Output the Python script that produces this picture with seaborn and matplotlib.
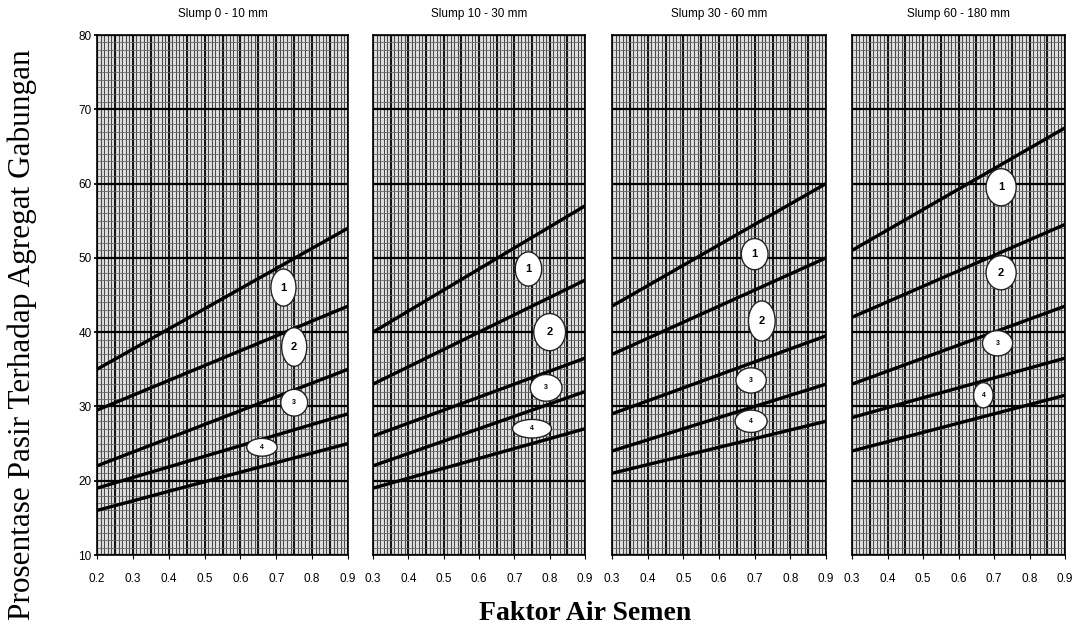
import numpy as np
import pandas as pd
import matplotlib
matplotlib.use("Agg")
import matplotlib.pyplot as plt
from matplotlib.patches import Ellipse
import seaborn as sns

# Slump classes, one panel each
panels = ["Slump 0 - 10 mm", "Slump 10 - 30 mm", "Slump 30 - 60 mm", "Slump 60 - 180 mm"]

# Water-cement ratio range of each panel
fas_start = [0.2, 0.3, 0.3, 0.3]
fas_end = [0.9, 0.9, 0.9, 0.9]

# Boundary lines (sand percent at start / end of the range), lines 1..5 top to bottom
p1_start = [35.0, 29.5, 22.0, 19.0, 16.0]
p1_end = [54.0, 43.5, 35.0, 29.0, 25.0]
p2_start = [40.0, 33.0, 26.0, 22.0, 19.0]
p2_end = [57.0, 47.0, 36.5, 32.0, 27.0]
p3_start = [43.5, 37.0, 29.0, 24.0, 21.0]
p3_end = [60.0, 50.0, 39.5, 33.0, 28.0]
p4_start = [51.0, 42.0, 33.0, 28.5, 24.0]
p4_end = [67.5, 54.5, 43.5, 36.5, 31.5]

# Zone labels (1..4): centre position of each marker per panel
zone_ids = ["1", "2", "3", "4"]
p1_zone_x = [0.72, 0.75, 0.75, 0.66]
p1_zone_y = [46.0, 38.0, 30.5, 24.5]
p2_zone_x = [0.74, 0.80, 0.79, 0.75]
p2_zone_y = [48.5, 40.0, 32.5, 27.0]
p3_zone_x = [0.70, 0.72, 0.69, 0.69]
p3_zone_y = [50.5, 41.5, 33.5, 28.0]
p4_zone_x = [0.72, 0.72, 0.71, 0.67]
p4_zone_y = [59.5, 48.0, 38.5, 31.5]

starts = [p1_start, p2_start, p3_start, p4_start]
ends = [p1_end, p2_end, p3_end, p4_end]
zone_xs = [p1_zone_x, p2_zone_x, p3_zone_x, p4_zone_x]
zone_ys = [p1_zone_y, p2_zone_y, p3_zone_y, p4_zone_y]

# marker size (width in FAS units, height in percent) for each zone label
zone_w = [[0.07, 0.07, 0.075, 0.085], [0.075, 0.09, 0.09, 0.11],
          [0.075, 0.075, 0.085, 0.09], [0.085, 0.085, 0.085, 0.055]]
zone_h = [[5.0, 5.2, 3.6, 2.4], [4.6, 5.0, 3.6, 2.5], [4.2, 5.4, 3.4, 3.0], [5.0, 4.6, 3.4, 3.4]]

rows = []
for pi, name in enumerate(panels):
    for li in range(5):
        rows.append({"panel": name, "line": li + 1, "fas": fas_start[pi], "pasir": starts[pi][li]})
        rows.append({"panel": name, "line": li + 1, "fas": fas_end[pi], "pasir": ends[pi][li]})
df = pd.DataFrame(rows)

sns.set_theme(style="white")
plt.rcParams["font.family"] = ["Liberation Sans", "DejaVu Sans"]
plt.rcParams["text.color"] = "black"
plt.rcParams["xtick.color"] = "black"
plt.rcParams["ytick.color"] = "black"

fig = plt.figure(figsize=(10.9, 6.36), dpi=100)
rects = [(97, 251), (373, 212), (612, 214), (852, 213)]
top_px, bot_px = 35, 555

for pi, name in enumerate(panels):
    l, w = rects[pi]
    ax = fig.add_axes([l / 1090, 1 - bot_px / 636, w / 1090, (bot_px - top_px) / 636])
    x0, x1 = fas_start[pi], fas_end[pi]
    ax.set_facecolor("#e2e2e2")

    # graph-paper texture
    fine = np.round(np.arange(x0, x1 + 1e-9, 0.01), 3)
    ax.vlines(fine, 10, 80, color="#4a4a4a", lw=0.8, zorder=0)
    coarse = np.round(np.arange(x0, x1 + 1e-9, 0.05), 3)
    ax.vlines(coarse, 10, 80, color="#151515", lw=1.5, zorder=0)
    ax.hlines(np.arange(10, 81, 1), x0, x1, color="#666666", lw=0.6, zorder=0)
    ax.hlines(np.arange(10, 81, 10), x0, x1, color="#000000", lw=1.6, zorder=1)

    sub = df[df["panel"] == name]
    sns.lineplot(data=sub, x="fas", y="pasir", units="line", estimator=None,
                 color="black", lw=2.4, ax=ax, zorder=3)

    for zi, z in enumerate(zone_ids):
        e = Ellipse((zone_xs[pi][zi], zone_ys[pi][zi]), zone_w[pi][zi], zone_h[pi][zi],
                    facecolor="white", edgecolor="#222222", lw=1.0, zorder=4)
        ax.add_patch(e)
        fs = 8 if zi < 2 else 5
        ax.text(zone_xs[pi][zi], zone_ys[pi][zi], z, ha="center", va="center",
                fontsize=fs, fontweight="bold", zorder=5)

    ax.set_xlim(x0, x1)
    ax.set_ylim(10, 80)
    ticks = np.round(np.arange(x0, x1 + 1e-9, 0.1), 1)
    ax.set_xticks(ticks)
    ax.set_xticklabels([f"{t:.1f}" for t in ticks], fontsize=8.5)
    ax.tick_params(axis="x", length=3, width=0.8, direction="out", pad=10, bottom=True)
    if pi == 0:
        ax.set_yticks(np.arange(10, 81, 10))
        ax.set_yticklabels([str(v) for v in range(10, 81, 10)], fontsize=8.5)
        ax.tick_params(axis="y", length=2, left=True, pad=2)
    else:
        ax.set_yticks([])
    ax.set_xlabel("")
    ax.set_ylabel("")
    for s in ax.spines.values():
        s.set_color("black")
        s.set_linewidth(1.2)
    ax.set_title(name, fontsize=8.5, pad=13)

fig.text(22 / 1090, 1 - 335 / 636, "Prosentase Pasir Terhadap Agregat Gabungan", rotation=90,
         ha="center", va="center", fontsize=22.5, family="Liberation Serif")
fig.text(585 / 1090, 1 - 614 / 636, "Faktor Air Semen", ha="center", va="center",
         fontsize=20, fontweight="bold", family="Liberation Serif")

fig.savefig("out.png", dpi=100)
